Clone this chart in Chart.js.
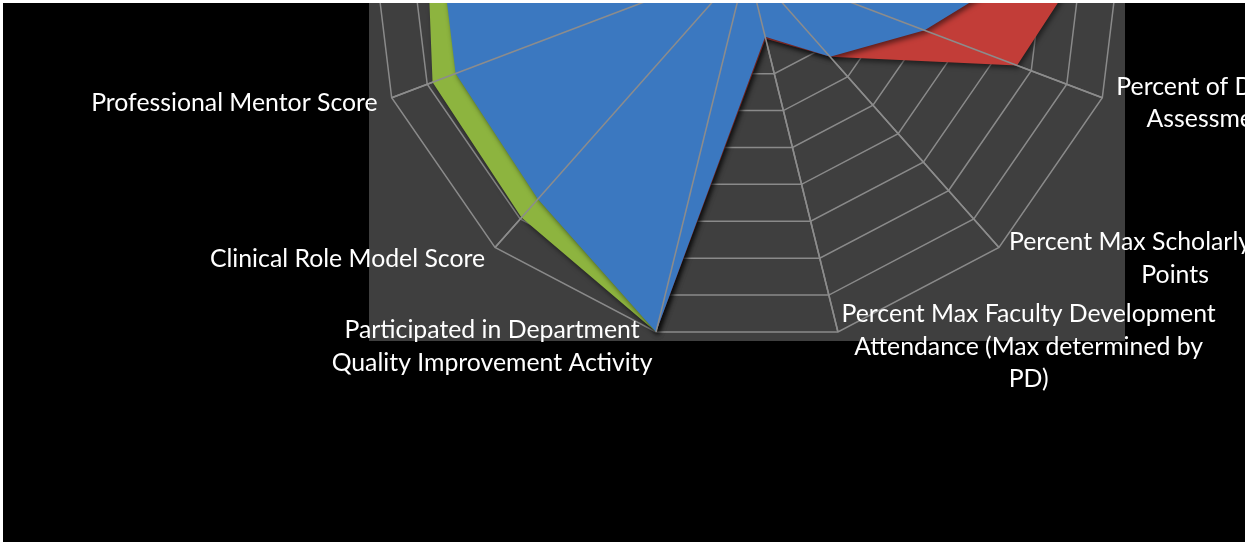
<!DOCTYPE html>
<html>
<head>
<meta charset="utf-8">
<title>Faculty radar</title>
<script src="https://cdn.jsdelivr.net/npm/chart.js@4.4.1/dist/chart.umd.min.js"></script>
<style>
  html, body { margin: 0; padding: 0; background: #fff; overflow: hidden; }
  #frame { position: absolute; left: 3px; top: 3px; width: 1242px; height: 539px; background: #000; overflow: hidden; }
  #radar { position: absolute; left: 0; top: -420px; }
</style>
</head>
<body>
<div id="frame"><canvas id="radar" width="1489" height="860"></canvas></div>
<script>
// categories (clockwise from the top spoke), only 4..9 are inside the picture
var categories = [
    'Overall Faculty Evaluation Score',
    ['Resident Teaching', 'Evaluation Score'],
    ['Percent Conference', 'Attendance'],
    ['Percent of Shifts with', 'Resident Feedback'],
    ['Percent of Direct Observation', 'Assessments Completed'],
    ['Percent Max Scholarly Activity', 'Points'],
    ['Percent Max Faculty Development', 'Attendance (Max determined by', 'PD)'],
    ['Participated in Department', 'Quality Improvement Activity'],
    'Clinical Role Model Score',
    'Professional Mentor Score',
    ['Bedside Teaching', 'Score'],
    ['Lecture Quality', 'Score'],
    ['Percent Committee', 'Participation']
];

var seriesNames = ['Faculty', 'Department Average', 'Department Goal'];
var blueValues  = [95, 90, 92, 95, 50, 33, 20, 100, 83, 82, 82, 90, 85];
var redValues   = [90, 95, 100, 97, 76, 33, 20.5, 100, 70, 65, 60, 60, 75];
var greenValues = [90, 85, 70, 80, 60, 30, 15, 100, 89.5, 88.5, 85, 80, 85];

var scaleMax  = 100;
var scaleStep = 10;

var labelFont = 24.8;
var labelLine = 32.5;

// grey plot area behind the web
var plotBack = {
    id: 'plotBack',
    beforeDraw: function(chart) {
        var s = chart.scales.r;
        var ctx = chart.ctx;
        var half = s.drawingArea - 2;
        ctx.save();
        ctx.fillStyle = '#3f3f3f';
        ctx.fillRect(s.xCenter - half, s.yCenter - half - 4, half * 2, half * 2 + 4);
        ctx.restore();
    }
};

// soft shadow under the filled areas
var areaShadow = {
    id: 'areaShadow',
    beforeDatasetsDraw: function(chart) {
        var ctx = chart.ctx;
        ctx.save();
        ctx.shadowColor = 'rgba(0,0,0,0.5)';
        ctx.shadowBlur = 5;
        ctx.shadowOffsetX = 2;
        ctx.shadowOffsetY = 3;
    },
    afterDatasetsDraw: function(chart) {
        chart.ctx.restore();
    }
};

// the spokes sit on top of the areas, so redraw them after the datasets
var spokesOnTop = {
    id: 'spokesOnTop',
    afterDatasetsDraw: function(chart) {
        var s = chart.scales.r;
        var ctx = chart.ctx;
        ctx.save();
        ctx.strokeStyle = '#8c8c8c';
        ctx.lineWidth = 1.5;
        for (var i = 0; i < categories.length; i++) {
            var p = s.getPointPosition(i, s.drawingArea);
            ctx.beginPath();
            ctx.moveTo(s.xCenter, s.yCenter);
            ctx.lineTo(p.x, p.y);
            ctx.stroke();
        }
        ctx.restore();
    }
};

// category labels, placed like the office chart does it
var spokeLabels = {
    id: 'spokeLabels',
    afterDraw: function(chart) {
        var s = chart.scales.r;
        var ctx = chart.ctx;
        ctx.save();
        ctx.font = labelFont + 'px Lato';
        ctx.fillStyle = '#ffffff';
        ctx.textAlign = 'center';
        ctx.textBaseline = 'middle';
        for (var i = 0; i < categories.length; i++) {
            var lines = [].concat(categories[i]);
            var p = s.getPointPosition(i, s.drawingArea + 15);
            var w = 0;
            lines.forEach(function(t) { w = Math.max(w, ctx.measureText(t).width); });
            var dx = Math.cos(p.angle);
            var cx = p.x;
            if (dx > 0.05) cx = p.x + w / 2;
            else if (dx < -0.05) cx = p.x - w / 2;
            var cy = p.y;
            for (var k = 0; k < lines.length; k++) {
                ctx.fillText(lines[k], cx, cy + (k - (lines.length - 1) / 2) * labelLine);
            }
        }
        ctx.restore();
    }
};

new Chart(document.getElementById('radar'), {
    type: 'radar',
    data: {
        labels: categories,
        datasets: [
            { label: seriesNames[0], data: blueValues,  backgroundColor: '#3b78c0', borderWidth: 0, fill: true, pointRadius: 0 },
            { label: seriesNames[1], data: redValues,   backgroundColor: '#c23d38', borderWidth: 0, fill: true, pointRadius: 0 },
            { label: seriesNames[2], data: greenValues, backgroundColor: '#8db43f', borderWidth: 0, fill: true, pointRadius: 0 }
        ]
    },
    options: {
        responsive: false,
        animation: false,
        layout: { padding: { left: 0, top: 0, right: 0, bottom: 100 } },
        plugins: {
            legend: { display: false },
            tooltip: { enabled: false }
        },
        elements: { line: { tension: 0 } },
        scales: {
            r: {
                min: 0,
                max: scaleMax,
                ticks: { display: false, stepSize: scaleStep },
                pointLabels: { display: false },
                grid: { color: '#8a8a8a', lineWidth: 1.5 },
                angleLines: { color: '#8c8c8c', lineWidth: 1.5 }
            }
        }
    },
    plugins: [plotBack, areaShadow, spokesOnTop, spokeLabels]
});
</script>
</body>
</html>
